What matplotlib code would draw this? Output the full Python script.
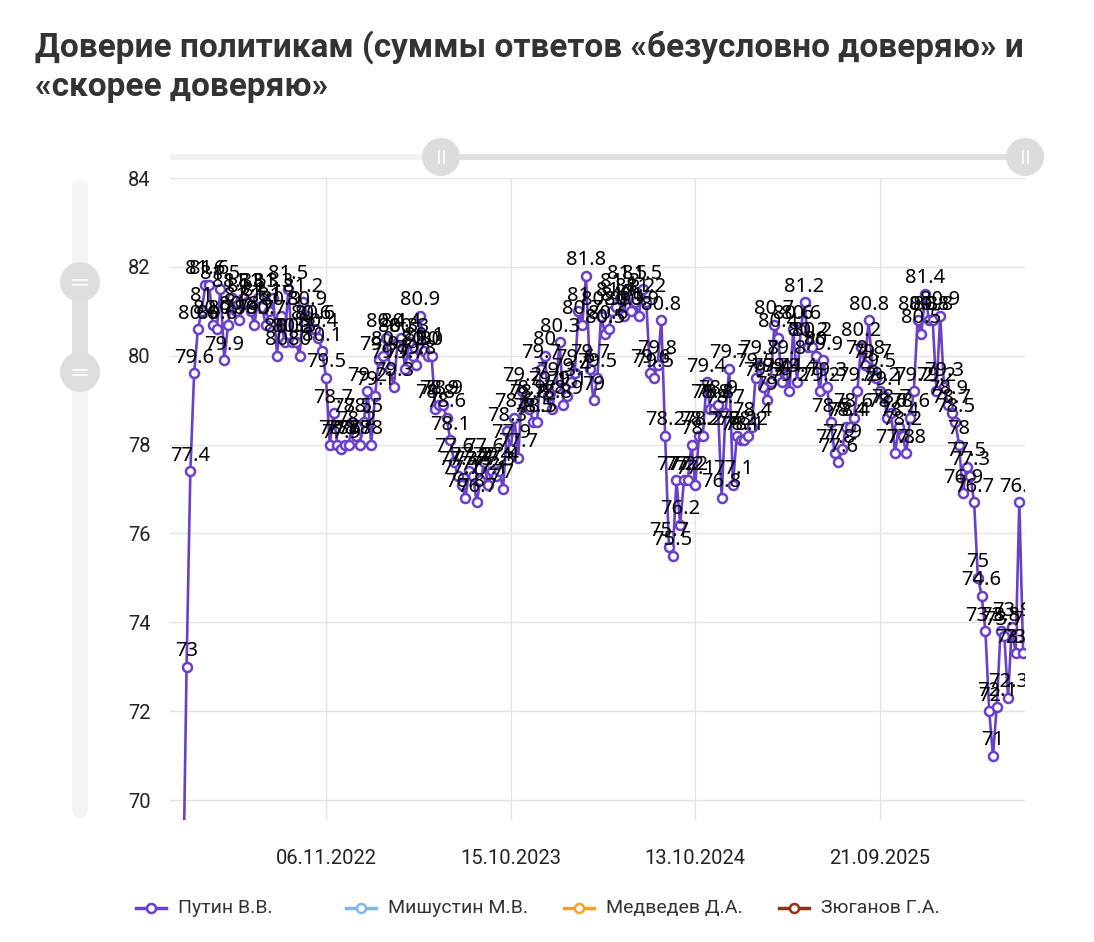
import matplotlib
matplotlib.use('Agg')
import matplotlib.pyplot as plt
from matplotlib.patches import Circle, FancyBboxPatch, Rectangle

W, H, DPI = 1094, 942, 100

title_lines = ["Доверие политикам (суммы ответов «безусловно доверяю» и",
               "«скорее доверяю»"]
series_names = ["Путин В.В.", "Мишустин М.В.", "Медведев Д.А.", "Зюганов Г.А."]
series_colors = ["#6a40c9", "#7fb5ea", "#f2a227", "#8c3414"]

# weekly values for Putin (only this series is in view)
putin = [
    67.4, 73.0, 77.4, 79.6, 80.6, 81.0, 81.6, 81.6, 80.7, 80.6,
    81.5, 79.9, 80.7, 81.3, 81.0, 80.8, 81.3, 81.2, 81.0, 80.7,
    81.3, 81.1, 80.7, 81.0, 81.3, 80.0, 80.9, 80.3, 81.5, 80.3,
    80.3, 80.0, 81.2, 80.9, 80.6, 80.6, 80.4, 80.1, 79.5, 78.0,
    78.7, 78.0, 77.9, 78.0, 78.0, 78.5, 78.2, 78.0, 78.5, 79.2,
    78.0, 79.1, 79.9, 80.0, 80.4, 79.7, 79.3, 80.3, 80.4, 79.7,
    80.3, 80.0, 79.8, 80.9, 80.1, 80.0, 80.0, 78.8, 78.9, 78.9,
    78.6, 78.1, 77.6, 77.3, 77.1, 76.8, 77.4, 77.3, 76.7, 77.2,
    77.6, 77.1, 77.4, 77.3, 77.4, 77.0, 78.3, 77.9, 78.6, 77.7,
    79.2, 78.9, 78.8, 78.5, 78.5, 79.7, 80.0, 79.1, 78.8, 79.3,
    80.3, 78.9, 79.1, 79.4, 79.6, 81.0, 80.7, 81.8, 79.7, 79.0,
    79.5, 80.9, 80.5, 80.6, 81.0, 81.1, 81.3, 80.9, 81.5, 81.0,
    81.2, 80.9, 81.5, 81.2, 79.6, 79.5, 79.8, 80.8, 78.2, 75.7,
    75.5, 77.2, 76.2, 77.2, 77.2, 78.0, 77.1, 78.2, 78.2, 79.4,
    78.8, 78.8, 78.9, 76.8, 78.7, 79.7, 77.1, 78.2, 78.1, 78.1,
    78.2, 78.4, 79.5, 79.8, 79.3, 79.0, 79.4, 80.7, 80.4, 79.4,
    79.8, 79.2, 80.6, 79.4, 80.6, 81.2, 80.2, 80.2, 80.0, 79.2,
    79.9, 79.3, 78.5, 77.8, 77.6, 77.9, 78.4, 78.4, 78.6, 79.2,
    80.2, 79.8, 80.8, 79.7, 79.5, 79.2, 79.1, 78.6, 78.7, 77.8,
    78.4, 78.2, 77.8, 78.6, 79.2, 80.8, 80.5, 81.4, 80.8, 80.8,
    79.2, 80.9, 79.3, 78.9, 78.7, 78.5, 78.0, 76.9, 77.5, 77.3,
    76.7, 75.0, 74.6, 73.8, 72.0, 71.0, 72.1, 73.8, 73.7, 72.3,
    73.9, 73.3, 76.7, 73.3,
]
x_tick_pos = [38, 87, 136, 185]
x_tick_labels = ["06.11.2022", "15.10.2023", "13.10.2024", "21.09.2025"]
y_ticks = [70, 72, 74, 76, 78, 80, 82, 84]

text_font = ['Roboto', 'DejaVu Sans']
label_font = ['Noto Sans', 'DejaVu Sans']

fig = plt.figure(figsize=(W / DPI, H / DPI), dpi=DPI)
fig.patch.set_facecolor('white')

# overlay in pixel coords for title, sliders and legend
bg = fig.add_axes([0, 0, 1, 1])
bg.set_xlim(0, W)
bg.set_ylim(H, 0)
bg.axis('off')

bg.text(35, 47, title_lines[0], fontsize=24, fontweight='bold', color='#333333',
        family=text_font, va='center', ha='left')
bg.text(35, 87, title_lines[1], fontsize=24, fontweight='bold', color='#333333',
        family=text_font, va='center', ha='left')

# horizontal range slider
bg.add_patch(Rectangle((170, 154), 271, 6, color='#f2f2f2', lw=0))
bg.add_patch(Rectangle((441, 154), 584, 6, color='#e0e0e0', lw=0))
for hx in [441, 1025]:
    bg.add_patch(Circle((hx, 157), 19, color='#dcdcdc', lw=0))
    bg.plot([hx - 2.5, hx - 2.5], [151, 163], color='white', lw=1.2)
    bg.plot([hx + 2.5, hx + 2.5], [151, 163], color='white', lw=1.2)

# vertical range slider
bg.add_patch(FancyBboxPatch((72, 180), 16, 638, boxstyle='round,pad=0,rounding_size=8',
                            color='#f4f4f4', lw=0))
bg.add_patch(Rectangle((72, 282), 16, 90, color='#e0e0e0', lw=0))
for hy in [282, 372]:
    bg.add_patch(Circle((80, hy), 20, color='#dedede', lw=0))
    bg.plot([73, 87], [hy - 2.5, hy - 2.5], color='white', lw=1.2)
    bg.plot([73, 87], [hy + 2.5, hy + 2.5], color='white', lw=1.2)

# legend
leg_x = [178, 388, 606, 821]
for name, col, lx in zip(series_names, series_colors, leg_x):
    bg.plot([lx - 42, lx - 12], [908, 908], color=col, lw=2.5)
    bg.plot([lx - 27], [908], marker='o', ms=6.5, mfc='white', mec=col, mew=1.8)
    bg.text(lx, 908, name, fontsize=14, color='#333333', family=text_font,
            va='center', ha='left')

# main plot
ax = fig.add_axes([170 / W, 1 - 820 / H, 855 / W, 642 / H])
ax.set_facecolor('none')
x = list(range(len(putin)))
ax.plot(x, putin, color=series_colors[0], lw=1.9, marker='o', ms=6.5,
        mfc='white', mec=series_colors[0], mew=1.8, zorder=3)
for xi, v in zip(x, putin):
    ax.annotate(f"{v:g}", (xi, v), xytext=(0, 4), textcoords='offset points',
                ha='center', va='bottom', fontsize=14.5, color='black',
                family=label_font, clip_on=True, zorder=4)

ax.set_xlim(-3.4, 223.5)
ax.set_ylim(69.55, 84)
ax.set_yticks(y_ticks)
ax.set_xticks(x_tick_pos)
ax.set_xticklabels(x_tick_labels)
ax.grid(True, color='#e3e3e3', lw=1)
ax.set_axisbelow(True)
for s in ax.spines.values():
    s.set_visible(False)
ax.tick_params(length=0, labelsize=14.5, labelcolor='#222222', pad=14)
for lab in ax.get_xticklabels() + ax.get_yticklabels():
    lab.set_family(text_font)
ax.tick_params(axis='x', pad=21)

fig.savefig('out.png', dpi=DPI)
